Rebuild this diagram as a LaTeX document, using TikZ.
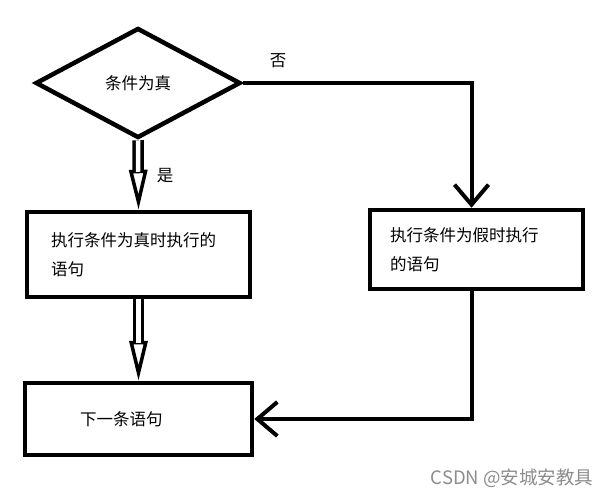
\documentclass[tikz,border=0pt]{standalone}
\usepackage{fontspec}
\setmainfont{Noto Sans CJK SC}
\usetikzlibrary{shapes.geometric,arrows.meta}

\tikzset{
  box/.style={draw, line width=4.5pt, align=left, inner ysep=0pt, font=\fontsize{16.5}{29}\selectfont},
  shaft/.style={line width=3.5pt, double, double distance=4.5pt, shorten >=38pt},
  hollowhead/.style={line width=3.5pt, -{Triangle[open, length=40pt, width=18pt]}},
  wire/.style={line width=4pt, -{Straight Barb[length=20pt, width=34pt, line width=4pt]}},
}

\begin{document}
\begin{tikzpicture}[x=1pt,y=-1pt]
\useasboundingbox (0,0) rectangle (613,499);
\node[diamond, draw, line width=4.5pt, minimum width=205pt, minimum height=110pt,
  font=\fontsize{16.5}{20}\selectfont] (cond) at (138,83) {条件为真};
\node[box, text width=175pt, inner xsep=24pt, minimum height=85pt] (truebox) at (138.5,254.5)
  {执行条件为真时执行的\\语句};
\node[box, text width=173pt, inner xsep=20pt, minimum height=79pt] (falsebox) at (476.5,249.5)
  {执行条件为假时执行\\的语句};
\node[box, text width=117pt, inner xsep=55pt, minimum height=72pt] (nextbox) at (138.5,419)
  {下一条语句};

%true branch
\draw[hollowhead] (cond.south) -- (truebox.north);
\draw[shaft] (cond.south) -- (truebox.north);
\node[font=\fontsize{16.5}{20}\selectfont] (yes) at (165,176) {是};
\draw[hollowhead] (truebox.south) -- (nextbox.north);
\draw[shaft] (truebox.south) -- (nextbox.north);

%false branch
\node[font=\fontsize{16.5}{20}\selectfont] (no) at (278,61) {否};
\draw[wire] (cond.east) -| ([xshift=-5pt]falsebox.north);
\draw[wire] ([xshift=-5pt]falsebox.south) |- (nextbox.east);

\node[text=black!45, font=\fontsize{18.5}{20}\selectfont] (mark) at (512,478) {CSDN @安城安教具};
\end{tikzpicture}
\end{document}
